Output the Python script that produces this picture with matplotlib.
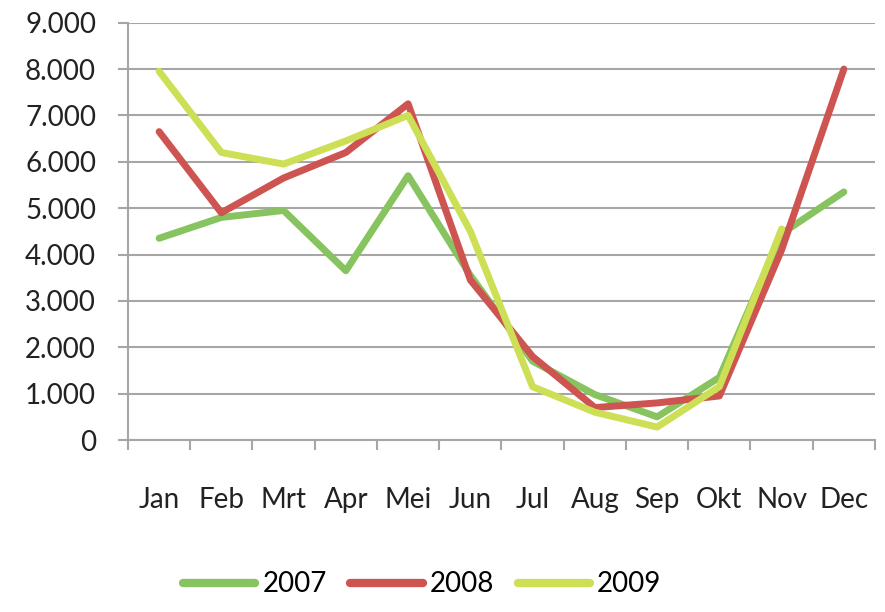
import matplotlib
matplotlib.use('Agg')
import matplotlib.pyplot as plt
import numpy as np
from matplotlib.ticker import FuncFormatter, FixedLocator

plt.rcParams['font.family'] = ['Lato', 'DejaVu Sans']

months = ['Jan', 'Feb', 'Mrt', 'Apr', 'Mei', 'Jun', 'Jul', 'Aug', 'Sep', 'Okt', 'Nov', 'Dec']
v2007 = [4350, 4800, 4950, 3650, 5700, 3550, 1700, 980, 500, 1350, 4450, 5350]
v2008 = [6650, 4900, 5650, 6200, 7250, 3450, 1800, 700, 800, 950, 4100, 8000]
v2009 = [7950, 6200, 5950, 6450, 7000, 4500, 1150, 600, 280, 1150, 4550, None]

series = [('2007', v2007, '#87c35f'), ('2008', v2008, '#cd5450'), ('2009', v2009, '#cddf55')]

fig = plt.figure(figsize=(8.85, 6.12), dpi=100)
ax = fig.add_axes([0.1446, 0.281, 0.8441, 0.682])

x = np.arange(len(months))
for name, vals, col in series:
    xs = [i for i, v in zip(x, vals) if v is not None]
    ys = [v for v in vals if v is not None]
    ax.plot(xs, ys, color=col, lw=5, label=name, solid_capstyle='round', solid_joinstyle='round')

ax.set_ylim(0, 9000)
ax.set_xlim(-0.5, len(months) - 0.5)
ax.set_yticks(np.arange(0, 9001, 1000))
ax.yaxis.set_major_formatter(FuncFormatter(lambda v, p: f'{int(v):,}'.replace(',', '.')))
ax.grid(axis='y', color='#a6a6a6', lw=1.5)
ax.set_axisbelow(True)

# boundary ticks and centred labels
ax.xaxis.set_major_locator(FixedLocator(np.arange(-0.5, len(months), 1.0)))
ax.xaxis.set_minor_locator(FixedLocator(x))
ax.set_xticklabels([])
ax.set_xticklabels(months, minor=True)
ax.tick_params(axis='x', which='major', length=7, width=1.5, color='#a6a6a6')
ax.tick_params(axis='x', which='minor', length=0, pad=34, labelsize=20, labelcolor='#222222')
ax.tick_params(axis='y', length=7, width=1.5, color='#a6a6a6', pad=16, labelsize=20, labelcolor='#222222')

for s in ['top', 'right']:
    ax.spines[s].set_visible(False)
for s in ['left', 'bottom']:
    ax.spines[s].set_color('#a6a6a6')
    ax.spines[s].set_linewidth(1.5)

leg = fig.legend(loc='center', bbox_to_anchor=(0.477, 0.045), ncol=3, frameon=False, fontsize=20,
                 handlelength=2.6, handletextpad=0.25, columnspacing=0.85)
for h in leg.get_lines():
    h.set_linewidth(6)

fig.savefig('out.png', dpi=100)
